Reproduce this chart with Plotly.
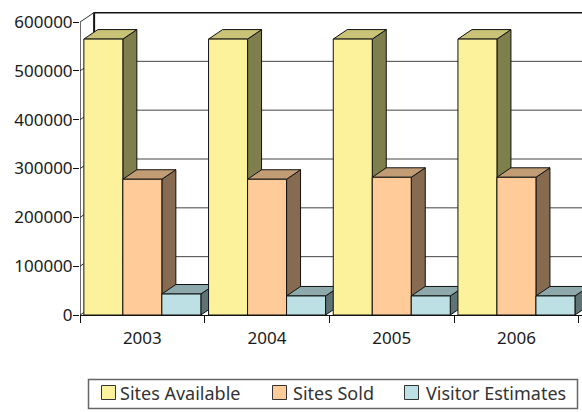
import plotly.graph_objects as go

years = ["2003", "2004", "2005", "2006"]
series_names = ["Sites Available", "Sites Sold", "Visitor Estimates"]
sites_available = [565000, 565000, 565000, 565000]
sites_sold = [278000, 278000, 282000, 282000]
visitor_estimates = [43000, 39000, 39000, 39000]
y_ticks = [0, 100000, 200000, 300000, 400000, 500000, 600000]

front_colors = ["#FBF29B", "#FFCC99", "#BCE0E4"]
top_colors = ["#C8C377", "#C19C75", "#8EA9AC"]
side_colors = ["#7F7F4E", "#866B50", "#5F7274"]
all_values = [sites_available, sites_sold, visitor_estimates]

W, H = 582, 412
L, R, T, B = 80, 0, 12, 97
plot_w = W - L - R
plot_h = H - T - B
cat_px = 124.7
px_per_unit = 293 / 600000
x_range = [-0.5, -0.5 + plot_w / cat_px]
y_range = [0, plot_h / px_per_unit]
dx = 14 / cat_px
dy = 9.5 / px_per_unit
bar_w = 39 / cat_px
LINE = dict(color="#111111", width=1)

fig = go.Figure()
for name, vals, col in zip(series_names, all_values, front_colors):
    fig.add_trace(go.Bar(name=name, x=years, y=vals, showlegend=False,
                         marker=dict(color=col, line=dict(color="#111111", width=1))))

shapes = []
annotations = []
def poly(points, fill, line=LINE):
    path = "M" + " L".join(f"{x},{y}" for x, y in points) + " Z"
    shapes.append(dict(type="path", path=path, xref="x", yref="y", fillcolor=fill,
                       line=line, layer="below"))
def seg(x0, y0, x1, y1, color="#333333", width=1):
    shapes.append(dict(type="line", x0=x0, y0=y0, x1=x1, y1=y1, xref="x", yref="y",
                       line=dict(color=color, width=width), layer="below"))

# back wall and gridlines
x_left = x_range[0] + 0.001
for v in y_ticks[1:]:
    seg(x_left, v, x_left + dx, v + dy)
    seg(x_left + dx, v + dy, x_range[1], v + dy, width=2 if v == y_ticks[-1] else 1,
        color="#111111" if v == y_ticks[-1] else "#444444")
seg(x_left, 0, x_left + dx, dy)
seg(x_left + dx, dy, x_left + dx, y_ticks[-1] + dy, color="#111111", width=2)
seg(x_left, 0, x_left, y_ticks[-1], color="#111111")

# depth faces of each bar, from the data, back to front
n = len(series_names)
for i in range(len(years)):
    for s in range(n):
        v = all_values[s][i]
        x0 = i + (s - n / 2) * bar_w
        x1 = x0 + bar_w
        poly([(x1, 0), (x1 + dx, dy), (x1 + dx, v + dy), (x1, v)], side_colors[s])
        poly([(x0, v), (x0 + dx, v + dy), (x1 + dx, v + dy), (x1, v)], top_colors[s])

# legend box
def px_x(p):
    return (p - L) / plot_w
def px_y(p):
    return 1 - (p - T) / plot_h
shapes.append(dict(type="rect", xref="paper", yref="paper", x0=px_x(88.5), x1=px_x(577.5),
                   y0=px_y(408.5), y1=px_y(379.5), line=dict(color="#666666", width=1.5),
                   fillcolor="white", layer="above"))
swatch_px = [101, 272, 404]
text_px = [119, 292, 425]
for name, col, sx, tx in zip(series_names, front_colors, swatch_px, text_px):
    shapes.append(dict(type="rect", xref="paper", yref="paper", x0=px_x(sx + .5), x1=px_x(sx + 14.5),
                       y0=px_y(399.5), y1=px_y(385.5), line=dict(color="#333333", width=1),
                       fillcolor=col, layer="above"))
    annotations.append(dict(text=name, xref="paper", yref="paper", x=px_x(tx), y=px_y(393),
                            xanchor="left", yanchor="middle", showarrow=False, xshift=-1,
                            font=dict(family="Noto Sans", size=18, color="#333333")))

font = dict(family="Noto Sans", size=17, color="#1a1a1a")
fig.update_layout(
    width=W, height=H, autosize=False,
    margin=dict(l=L, r=R, t=T, b=B, pad=0),
    paper_bgcolor="white", plot_bgcolor="white",
    barmode="group", bargap=1 - 3 * bar_w, bargroupgap=0,
    font=font, shapes=shapes, annotations=annotations, showlegend=False,
    xaxis=dict(type="category", range=x_range, tickson="boundaries", ticks="outside",
               ticklen=7, tickcolor="#111111", showgrid=False, showline=True,
               linecolor="#111111", linewidth=1, tickfont=font, ticklabelstandoff=8),
    yaxis=dict(range=y_range, tickvals=y_ticks, ticks="outside", ticklen=6,
               tickcolor="#111111", showgrid=False, zeroline=False, showline=False,
               tickformat="d", tickfont=font, ticklabelstandoff=-3),
)
fig.write_html("out.html", config={"displayModeBar": False},
               post_script="document.body.style.margin='0';document.body.style.overflow='hidden';")
